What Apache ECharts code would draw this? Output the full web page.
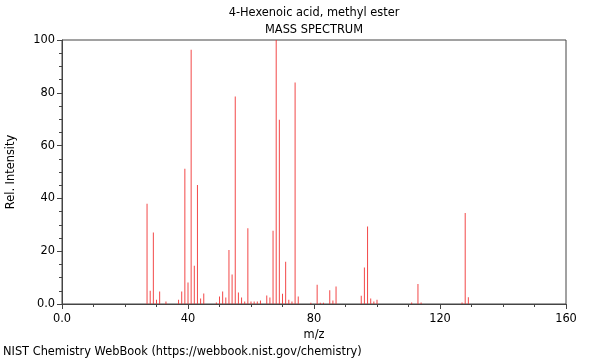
<!DOCTYPE html>
<html>
<head>
<meta charset="utf-8">
<script src="https://cdn.jsdelivr.net/npm/echarts@6/dist/echarts.min.js"></script>
<style>html,body{margin:0;padding:0;background:#fff;}#c{width:600px;height:360px;}</style>
</head>
<body>
<div id="c"></div>
<script>
const mz = [27,28,29,30,31,33,37,38,39,40,41,42,43,44,45,49,50,51,52,53,54,55,56,57,58,59,60,61,62,63,65,66,67,68,69,70,71,72,73,74,75,79,81,82,83,85,86,87,95,96,97,98,99,100,111,113,114,127,128,129];
const intensity = [38,5,27.1,1.6,4.7,0.9,1.6,4.7,51.2,8.1,96.3,14.5,45.1,2.1,4.0,0.6,2.8,4.7,2.5,20.5,11.2,78.6,4.4,2.5,0.9,28.7,0.9,0.9,0.9,1.3,3.2,2.5,27.7,100,69.8,3.9,16.0,1.6,0.9,83.9,2.8,0.5,7.3,0.5,0.5,5.2,1.3,6.6,3.1,13.8,29.4,2.1,0.9,1.6,0.6,7.6,0.6,0.6,34.5,2.6];
const xTicks = [0,40,80,120,160];
const yTicks = [0,20,40,60,80,100];
const titleText = '4-Hexenoic acid, methyl ester';
const subtitleText = 'MASS SPECTRUM';
const footerText = 'NIST Chemistry WebBook (https://webbook.nist.gov/chemistry)';

const font = 'DejaVu Sans';
const fs = 11.4;
const chart = echarts.init(document.getElementById('c'), null, {renderer: 'canvas'});
chart.setOption({
  animation: false,
  textStyle: {fontFamily: font},
  title: [
    {text: titleText, left: 314, top: 8, padding: 0, textAlign: 'center', textStyle: {fontFamily: font, fontSize: fs, fontWeight: 'normal', color: '#000'}},
    {text: subtitleText, left: 314, top: 25, padding: 0, textAlign: 'center', textStyle: {fontFamily: font, fontSize: fs, fontWeight: 'normal', color: '#000'}},
    {text: footerText, left: 3, top: 347, padding: 0, textStyle: {fontFamily: font, fontSize: fs, fontWeight: 'normal', color: '#000'}}
  ],
  grid: {left: 62, right: 34, top: 40, bottom: 56, outerBoundsMode: 'none', containLabel: false, show: true, borderColor: '#444', borderWidth: 1, backgroundColor: 'transparent'},
  xAxis: {
    type: 'value', min: xTicks[0], max: xTicks[xTicks.length-1], interval: 40,
    name: 'm/z', nameLocation: 'middle', nameGap: 25,
    nameTextStyle: {fontFamily: font, fontSize: fs, color: '#000'},
    axisLine: {show: true, onZero: false, lineStyle: {color: '#444'}},
    axisTick: {show: true, length: 5, lineStyle: {color: '#444'}},
    minorTick: {show: true, splitNumber: 4, length: 3, lineStyle: {color: '#444'}},
    splitLine: {show: false},
    axisLabel: {fontFamily: font, fontSize: fs, color: '#000', margin: 10, formatter: v => v === 0 ? '0.0' : String(v)}
  },
  yAxis: {
    type: 'value', min: yTicks[0], max: yTicks[yTicks.length-1], interval: 20,
    name: 'Rel. Intensity', nameLocation: 'middle', nameGap: 45, nameRotate: 90,
    nameTextStyle: {fontFamily: font, fontSize: fs, color: '#000'},
    axisLine: {show: true, lineStyle: {color: '#444'}},
    axisTick: {show: true, length: 5, lineStyle: {color: '#444'}},
    minorTick: {show: true, splitNumber: 4, length: 3, lineStyle: {color: '#444'}},
    splitLine: {show: false},
    axisLabel: {fontFamily: font, fontSize: fs, color: '#000', margin: 7, formatter: v => v === 0 ? '0.0' : String(v)}
  },
  series: [{
    type: 'bar',
    data: mz.map((m, i) => [m, intensity[i]]),
    barWidth: 1,
    itemStyle: {color: 'rgba(240,40,40,0.85)'},
    silent: true
  }]
});
</script>
</body>
</html>
